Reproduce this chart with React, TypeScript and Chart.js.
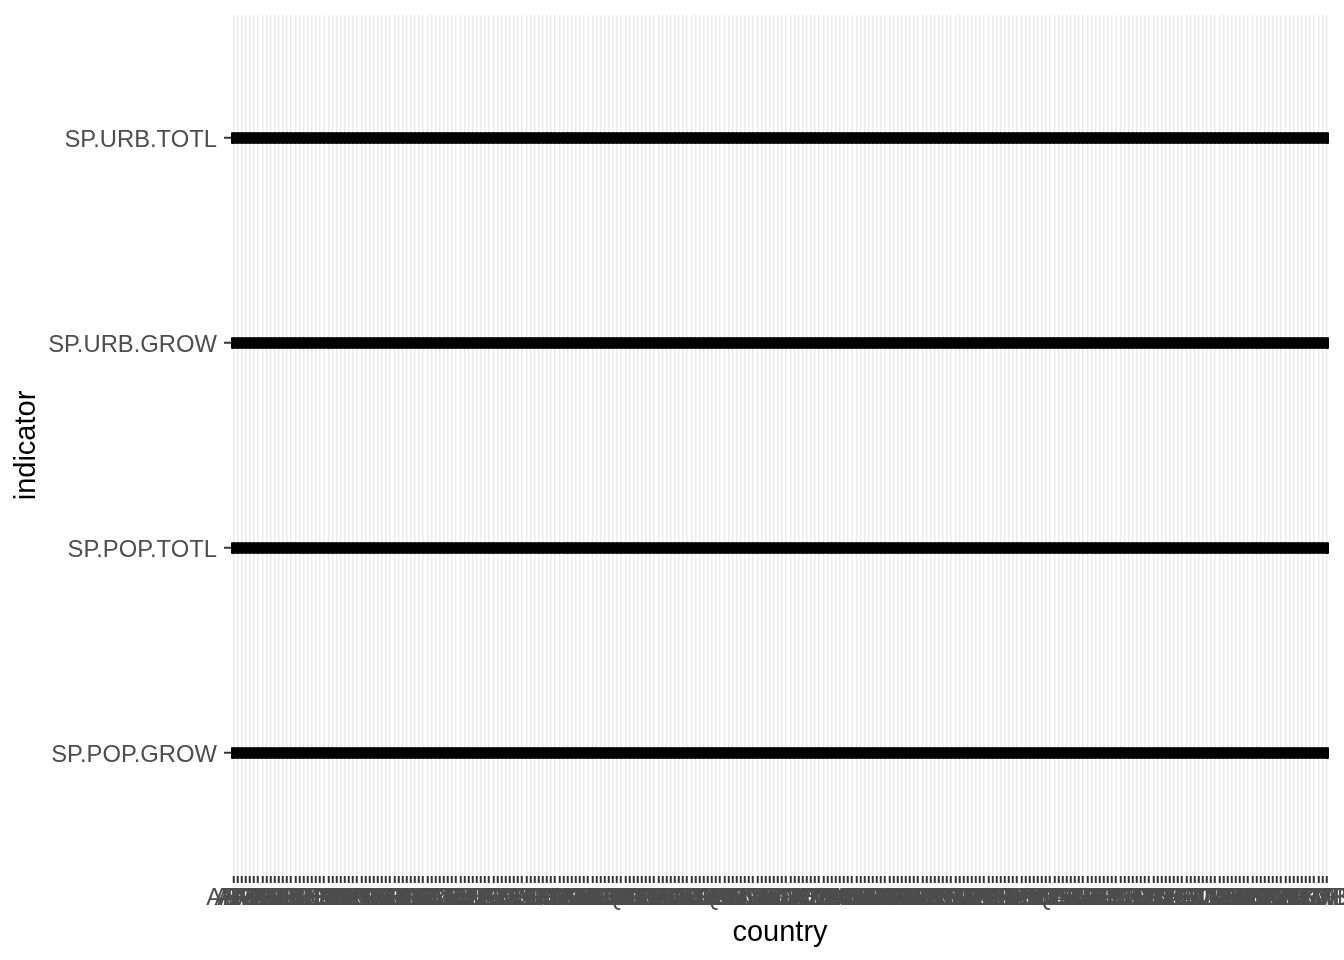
import React, { useEffect, useRef } from "react";
import { Chart, registerables } from "chart.js";

Chart.register(...registerables);

const countries: string[] = [
  "ABW", "AFE", "AFG", "AFW", "AGO", "ALB", "AND", "ARB", "ARE", "ARG", "ARM", "ASM", "ATG", "AUS", "AUT", "AZE",
  "BDI", "BEL", "BEN", "BFA", "BGD", "BGR", "BHR", "BHS", "BIH", "BLR", "BLZ", "BMU", "BOL", "BRA", "BRB", "BRN",
  "BTN", "BWA", "CAF", "CAN", "CEB", "CHE", "CHI", "CHL", "CHN", "CIV", "CMR", "COD", "COG", "COL", "COM", "CPV",
  "CRI", "CSS", "CUB", "CUW", "CYM", "CYP", "CZE", "DEU", "DJI", "DMA", "DNK", "DOM", "DZA", "EAP", "EAR", "EAS",
  "ECA", "ECS", "ECU", "EGY", "EMU", "ERI", "ESP", "EST", "ETH", "EUU", "FCS", "FIN", "FJI", "FRA", "FRO", "FSM",
  "GAB", "GBR", "GEO", "GHA", "GIB", "GIN", "GMB", "GNB", "GNQ", "GRC", "GRD", "GRL", "GTM", "GUM", "GUY", "HIC",
  "HKG", "HND", "HPC", "HRV", "HTI", "HUN", "IBD", "IBT", "IDA", "IDB", "IDN", "IDX", "IMN", "IND", "INX", "IRL",
  "IRN", "IRQ", "ISL", "ISR", "ITA", "JAM", "JOR", "JPN", "KAZ", "KEN", "KGZ", "KHM", "KIR", "KNA", "KOR", "KWT",
  "LAC", "LAO", "LBN", "LBR", "LBY", "LCA", "LCN", "LDC", "LIC", "LIE", "LKA", "LMC", "LMY", "LSO", "LTE", "LTU",
  "LUX", "LVA", "MAC", "MAF", "MAR", "MCO", "MDA", "MDG", "MDV", "MEA", "MEX", "MHL", "MIC", "MKD", "MLI", "MLT",
  "MMR", "MNA", "MNE", "MNG", "MNP", "MOZ", "MRT", "MUS", "MWI", "MYS", "NAC", "NAM", "NCL", "NER", "NGA", "NIC",
  "NLD", "NOR", "NPL", "NRU", "NZL", "OED", "OMN", "OSS", "PAK", "PAN", "PER", "PHL", "PLW", "PNG", "POL", "PRE",
  "PRI", "PRK", "PRT", "PRY", "PSE", "PSS", "PST", "PYF", "QAT", "ROU", "RUS", "RWA", "SAS", "SAU", "SDN", "SEN",
  "SGP", "SLB", "SLE", "SLV", "SMR", "SOM", "SRB", "SSA", "SSD", "SSF", "SST", "STP", "SUR", "SVK", "SVN", "SWE",
  "SWZ", "SXM", "SYC", "SYR", "TCA", "TCD", "TEA", "TEC", "TGO", "THA", "TJK", "TKM", "TLA", "TLS", "TMN", "TON",
  "TSA", "TSS", "TTO", "TUN", "TUR", "TUV", "TZA", "UGA", "UKR", "UMC", "URY", "USA", "UZB", "VCT", "VEN", "VGB",
  "VIR", "VNM", "VUT", "WLD", "WSM", "XKX", "YEM", "ZAF", "ZMB", "ZWE"
];

// bottom to top
const indicators: string[] = ["SP.POP.GROW", "SP.POP.TOTL", "SP.URB.GROW", "SP.URB.TOTL"];

const xTitle = "country";
const yTitle = "indicator";

const FONT = "'Liberation Sans', Arial, Helvetica, sans-serif";

export default function App() {
  const ref = useRef<HTMLCanvasElement | null>(null);

  useEffect(() => {
    if (!ref.current) return;
    const points: { x: number; y: number }[] = [];
    indicators.forEach((_, j) => {
      countries.forEach((_, i) => {
        points.push({ x: i, y: j });
      });
    });

    const chart = new Chart(ref.current, {
      type: "scatter",
      data: {
        datasets: [
          {
            data: points,
            backgroundColor: "#000000",
            borderWidth: 0,
            pointRadius: 6,
            pointHoverRadius: 6,
            clip: 0,
          } as any,
        ],
      },
      options: {
        responsive: false,
        animation: false,
        layout: { padding: { left: 0, top: 15, right: 15, bottom: 0 } },
        plugins: { legend: { display: false }, tooltip: { enabled: false } },
        scales: {
          x: {
            type: "linear",
            min: -0.6,
            max: countries.length - 1 + 0.6,
            afterBuildTicks: (s: any) => {
              s.ticks = countries.map((_, i) => ({ value: i }));
            },
            afterFit: (s: any) => {
              s.height = 84;
              s.paddingLeft = 0;
              s.paddingRight = 0;
            },
            ticks: {
              autoSkip: false,
              maxRotation: 0,
              minRotation: 0,
              padding: 1,
              color: "#4D4D4D",
              font: { family: FONT, size: 23.8 },
              callback: (v: any) => countries[Math.round(Number(v))] ?? "",
            },
            grid: {
              color: "#EBEBEB",
              lineWidth: 1.5,
              tickColor: "#333333",
              tickWidth: 2,
              tickLength: 7,
            },
            border: { display: false },
            title: {
              display: true,
              text: xTitle,
              color: "#000000",
              font: { family: FONT, size: 29 },
              padding: { top: 0, bottom: 9.6 },
            },
          },
          y: {
            type: "linear",
            min: -0.6,
            max: indicators.length - 1 + 0.6,
            afterBuildTicks: (s: any) => {
              s.ticks = indicators.map((_, i) => ({ value: i }));
            },
            afterFit: (s: any) => {
              s.width = 231;
              s.paddingTop = 0;
              s.paddingBottom = 0;
            },
            ticks: {
              autoSkip: false,
              padding: 7,
              labelOffset: 2,
              color: "#4D4D4D",
              font: { family: FONT, size: 23.8 },
              callback: (v: any) => indicators[Math.round(Number(v))] ?? "",
            },
            grid: {
              color: "#EBEBEB",
              lineWidth: 1.5,
              tickColor: "#333333",
              tickWidth: 2,
              tickLength: 7,
            },
            border: { display: false },
            title: {
              display: true,
              text: yTitle,
              color: "#000000",
              font: { family: FONT, size: 29 },
              padding: { top: 9.6, bottom: 0 },
            },
          },
        },
      },
    });
    return () => chart.destroy();
  }, []);

  return (
    <div style={{ position: "fixed", left: 0, top: 0, width: 1344, height: 960, background: "#ffffff" }}>
      <canvas ref={ref} width={1344} height={960} style={{ width: 1344, height: 960 }} />
    </div>
  );
}
